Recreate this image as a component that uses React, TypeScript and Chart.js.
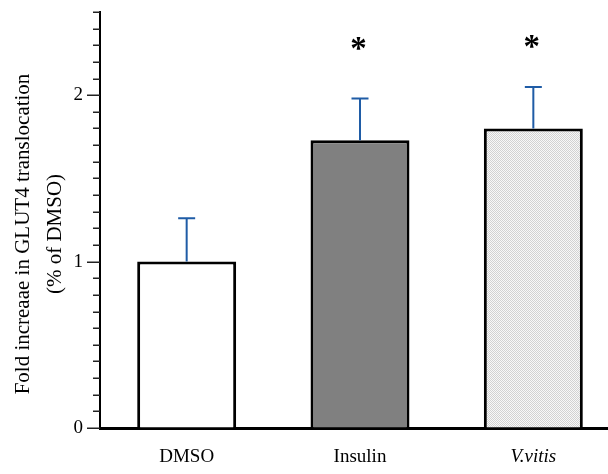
import React, { useEffect, useRef } from 'react';
import { Chart, registerables } from 'chart.js';

Chart.register(...registerables);

const categories = ['DMSO', 'Insulin', 'V.vitis'];
const means = [1.0, 1.73, 1.8];
const errors = [0.26, 0.25, 0.25];
const significance = ['', '*', '*'];
const starLevels = [0, 2.31, 2.32];
const yTickValues = [0, 1, 2];
const yMin = 0;
const yMax = 2.5;
const minorStep = 0.1;
const yTitleLines = ['Fold increaae in GLUT4 translocation', '(% of DMSO)'];

const FONT = '"Liberation Serif", "Times New Roman", serif';

function makePattern(): CanvasPattern | string {
  const c = document.createElement('canvas');
  c.width = 2;
  c.height = 2;
  const g = c.getContext('2d');
  if (!g) return '#e6e6e6';
  g.fillStyle = '#f8f8f8';
  g.fillRect(0, 0, 2, 2);
  g.fillStyle = '#d2d2d2';
  g.fillRect(0, 0, 1, 1);
  g.fillRect(1, 1, 1, 1);
  const p = g.createPattern(c, 'repeat');
  return p || '#e6e6e6';
}

const decorPlugin = {
  id: 'decor',
  afterDatasetsDraw(chart: any) {
    const ctx = chart.ctx;
    const y = chart.scales.y;
    const meta = chart.getDatasetMeta(0);
    ctx.save();
    // error bars
    ctx.strokeStyle = '#1f5ca6';
    ctx.lineWidth = 2;
    meta.data.forEach((el: any, i: number) => {
      const top = y.getPixelForValue(means[i] + errors[i]);
      const base = y.getPixelForValue(means[i]);
      ctx.beginPath();
      ctx.moveTo(el.x, base);
      ctx.lineTo(el.x, top);
      ctx.moveTo(el.x - 8.5, top);
      ctx.lineTo(el.x + 8.5, top);
      ctx.stroke();
    });
    // significance stars
    ctx.fillStyle = '#000';
    ctx.font = 'bold 100px ' + FONT;
    const m = ctx.measureText('*');
    const h100 = (m.actualBoundingBoxAscent || 40) + (m.actualBoundingBoxDescent || 0);
    const size = (12.5 * 100) / h100;
    ctx.font = 'bold ' + size.toFixed(1) + 'px ' + FONT;
    ctx.textAlign = 'center';
    ctx.textBaseline = 'alphabetic';
    meta.data.forEach((el: any, i: number) => {
      if (!significance[i]) return;
      const mm = ctx.measureText(significance[i]);
      const asc = mm.actualBoundingBoxAscent;
      const desc = mm.actualBoundingBoxDescent;
      const cy = y.getPixelForValue(starLevels[i]);
      ctx.fillText(significance[i], el.x - 1.5, cy + (asc - desc) / 2);
    });
    ctx.restore();
  },
  afterDraw(chart: any) {
    const ctx = chart.ctx;
    const y = chart.scales.y;
    const left = chart.chartArea.left;
    ctx.save();
    // y tick marks
    ctx.strokeStyle = '#222';
    ctx.lineWidth = 1.5;
    const n = Math.round((yMax - yMin) / minorStep);
    for (let i = 0; i <= n; i++) {
      const v = yMin + i * minorStep;
      const major = yTickValues.some((t) => Math.abs(t - v) < 1e-6);
      const py = Math.round(y.getPixelForValue(v)) + 0.25;
      ctx.beginPath();
      ctx.moveTo(left - (major ? 13 : 7), py);
      ctx.lineTo(left, py);
      ctx.stroke();
    }
    // y title
    ctx.fillStyle = '#000';
    ctx.font = '21px ' + FONT;
    ctx.textAlign = 'center';
    ctx.textBaseline = 'alphabetic';
    const cy = 234;
    const xs = [28.5, 61];
    yTitleLines.forEach((line, i) => {
      ctx.save();
      ctx.translate(xs[i], cy);
      ctx.rotate(-Math.PI / 2);
      ctx.fillText(line, 0, 0);
      ctx.restore();
    });
    ctx.restore();
  },
};

export default function App() {
  const ref = useRef<HTMLCanvasElement | null>(null);

  useEffect(() => {
    if (!ref.current) return;
    const pattern = makePattern();
    const chart = new Chart(ref.current, {
      type: 'bar',
      data: {
        labels: categories,
        datasets: [
          {
            data: means,
            backgroundColor: ['#ffffff', '#808080', pattern as any],
            borderColor: '#000000',
            borderWidth: 3,
            barPercentage: 0.571,
            categoryPercentage: 1,
          },
        ],
      },
      options: {
        responsive: false,
        animation: false,
        devicePixelRatio: 1,
        layout: { padding: { top: 12, left: 0, right: 0, bottom: 0 } },
        plugins: {
          legend: { display: false },
          tooltip: { enabled: false },
          title: { display: false },
        },
        scales: {
          x: {
            type: 'category',
            offset: true,
            grid: { display: true, drawOnChartArea: false, drawTicks: false },
            border: { display: true, color: '#000', width: 3 },
            ticks: {
              padding: 18,
              color: '#000',
              font: (c: any) => ({
                family: FONT,
                size: 19,
                style: c.index === 2 ? 'italic' : 'normal',
              }),
            },
            afterFit: (s: any) => {
              s.height = 46;
              s.paddingLeft = 0;
              s.paddingRight = 0;
            },
          },
          y: {
            type: 'linear',
            min: yMin,
            max: yMax,
            grid: { display: true, drawOnChartArea: false, drawTicks: false },
            border: { display: true, color: '#000', width: 2 },
            ticks: {
              stepSize: 1,
              padding: 17,
              color: '#000',
              font: { family: FONT, size: 19 },
              callback: (v: any) =>
                yTickValues.some((t) => Math.abs(t - Number(v)) < 1e-6) ? String(v) : '',
            },
            afterFit: (s: any) => {
              s.width = 100;
              s.paddingTop = 0;
              s.paddingBottom = 0;
            },
          },
        },
      },
      plugins: [decorPlugin],
    });
    return () => chart.destroy();
  }, []);

  return (
    <div
      style={{
        position: 'fixed',
        left: 0,
        top: 0,
        width: 608,
        height: 474,
        overflow: 'hidden',
        background: '#fff',
      }}
    >
      <canvas ref={ref} width={620} height={474} style={{ display: 'block' }} />
    </div>
  );
}
